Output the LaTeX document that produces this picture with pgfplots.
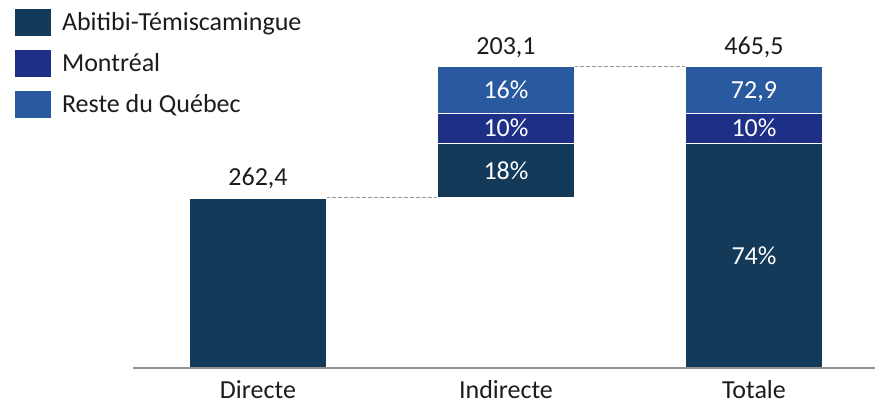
\documentclass[border=0pt]{standalone}
\usepackage{pgfplots}
\pgfplotsset{compat=1.18}
\usepackage{fontspec}
\setmainfont{Carlito}
\definecolor{cAT}{RGB}{20,58,90}
\definecolor{cMT}{RGB}{29,47,135}
\definecolor{cRQ}{RGB}{41,89,158}
\definecolor{txt}{RGB}{28,28,28}
\tikzset{lab/.style={anchor=base, inner sep=0pt, font=\fontsize{26}{30}\selectfont}}
\begin{document}
\begin{tikzpicture}
\begin{axis}[
  name=ax,
  scale only axis,
  width=742pt, height=368pt,
  xmin=-0.504, xmax=2.488,
  ymin=0, ymax=568,
  ybar stacked,
  bar width=137pt,
  axis on top,
  axis y line=none,
  axis x line*=bottom,
  axis line style={-, draw=gray!85, line width=1.6pt},
  xtick={0,1,2},
  xticklabels={Directe,Indirecte,Totale},
  major tick length=0pt,
  xticklabel style={font=\fontsize{26}{30}\selectfont, text=txt, inner sep=0pt, yshift=-12pt},
  legend style={at={(-0.159,0.9755)}, anchor=north west, draw=none, fill=none,
    inner sep=0pt, outer sep=0pt, row sep=14pt,
    font=\fontsize{26}{30}\selectfont,
    nodes={inner sep=0pt, text=txt},
    /tikz/every odd column/.append style={column sep=11pt}},
  legend cell align=left,
  legend image code/.code={\fill[#1, draw=none] (0pt,-13.5pt) rectangle (36pt,13.5pt);},
]
\addplot[fill=none, draw=none, forget plot] coordinates {(0,0) (1,262.4) (2,0)};
\addplot[fill=cAT, draw=white, line width=1.2pt] coordinates {(0,262.4) (1,83.7) (2,346.1)};
\addplot[fill=cMT, draw=white, line width=1.2pt] coordinates {(0,0) (1,46.5) (2,46.5)};
\addplot[fill=cRQ, draw=white, line width=1.2pt] coordinates {(0,0) (1,72.9) (2,72.9)};
\legend{Abitibi-Témiscamingue, Montréal, Reste du Québec}
\draw[gray!80, line width=1pt, dash pattern=on 4pt off 2pt] (axis cs:0.276,262.4) -- (axis cs:0.724,262.4);
\draw[gray!80, line width=1pt, dash pattern=on 4pt off 2pt] (axis cs:1.276,465.5) -- (axis cs:1.724,465.5);
\coordinate (t0) at (axis cs:0,262.4);
\coordinate (t1) at (axis cs:1,465.5);
\coordinate (t2) at (axis cs:2,465.5);
\coordinate (a1) at (axis cs:1,304.25);
\coordinate (m1) at (axis cs:1,369.35);
\coordinate (r1) at (axis cs:1,429.05);
\coordinate (a2) at (axis cs:2,173.05);
\coordinate (m2) at (axis cs:2,369.35);
\coordinate (r2) at (axis cs:2,429.05);
\end{axis}
\node[lab, text=txt, yshift=12pt] at (t0) {262,4};
\node[lab, text=txt, yshift=12pt] at (t1) {203,1};
\node[lab, text=txt, yshift=12pt] at (t2) {465,5};
\node[lab, text=white, yshift=-8.2pt] at (a1) {18\%};
\node[lab, text=white, yshift=-8.2pt] at (m1) {10\%};
\node[lab, text=white, yshift=-8.2pt] at (r1) {16\%};
\node[lab, text=white, yshift=-8.2pt] at (a2) {74\%};
\node[lab, text=white, yshift=-8.2pt] at (m2) {10\%};
\node[lab, text=white, yshift=-8.2pt] at (r2) {72,9};
\pgfresetboundingbox
\path (ax.south west) ++(-133pt,-36pt) rectangle (ax.north east);
\end{tikzpicture}
\end{document}
